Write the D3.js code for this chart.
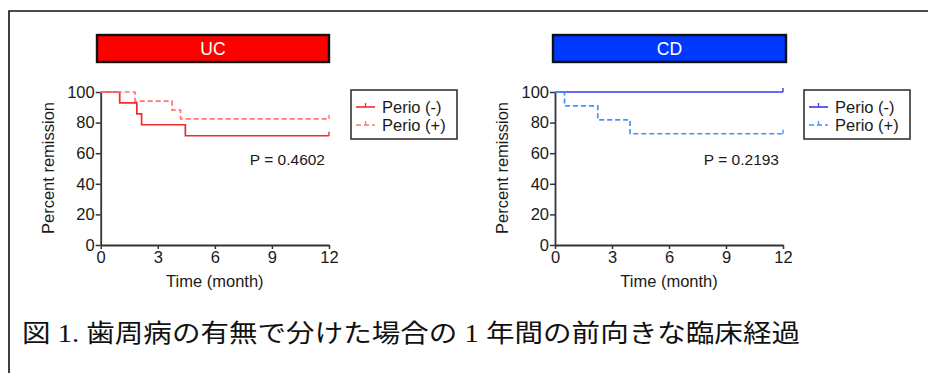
<!DOCTYPE html>
<html lang="ja">
<head>
<meta charset="UTF-8">
<title>Remission by periodontitis</title>
<script src="https://d3js.org/d3.v7.min.js"></script>
<style>
  html, body { margin: 0; padding: 0; background: #fff; }
  svg text { font-family: "Liberation Sans", Arial, sans-serif; fill: #1a1a1a; }
</style>
</head>
<body>
<div id="chart"></div>
<script>
// tick labels
const xTicks = [0, 3, 6, 9, 12];
const yTicks = [0, 20, 40, 60, 80, 100];
const seriesLabels = ["Perio (-)", "Perio (+)"];

// UC – Kaplan-Meier steps (month, % remission)
const ucNegTimes = [0, 1.0, 1.9, 2.15, 4.45, 12];
const ucNegSurv  = [100, 92.9, 85.7, 78.6, 71.4, 71.4];
const ucPosTimes = [0, 1.8, 3.75, 4.2, 12];
const ucPosSurv  = [100, 94.1, 88.2, 82.4, 82.4];
const ucP = "P = 0.4602";

// CD
const cdNegTimes = [0, 12];
const cdNegSurv  = [100, 100];
const cdPosTimes = [0, 0.5, 2.25, 3.95, 12];
const cdPosSurv  = [100, 90.9, 81.8, 72.7, 72.7];
const cdP = "P = 0.2193";

const caption = "図 1. 歯周病の有無で分けた場合の 1 年間の前向きな臨床経過";

const W = 928, H = 373;
const svg = d3.select("#chart").append("svg")
    .attr("width", W).attr("height", H);

// outer frame (runs off the right and bottom)
svg.append("path")
    .attr("d", `M9,${H + 2}V11H${W + 2}`)
    .attr("fill", "none").attr("stroke", "#111").attr("stroke-width", 1.6);

const panels = [
    { title: "UC", head: "#ff0000", left: 100.7, right: 329, hx: 97, hw: 232,
      neg: { t: ucNegTimes, s: ucNegSurv, c: "#ef2b2b" },
      pos: { t: ucPosTimes, s: ucPosSurv, c: "#ff7474" },
      p: ucP, legX: 351 },
    { title: "CD", head: "#0038ff", left: 555, right: 783, hx: 553, hw: 233,
      neg: { t: cdNegTimes, s: cdNegSurv, c: "#3b3bef" },
      pos: { t: cdPosTimes, s: cdPosSurv, c: "#3d94ff" },
      p: cdP, legX: 804 }
];

panels.forEach(pn => {
    const x = d3.scaleLinear().domain([0, 12]).range([pn.left, pn.right]);
    const y = d3.scaleLinear().domain([0, 100]).range([245, 92]);

    // header bar
    svg.append("rect")
        .attr("x", pn.hx).attr("y", 35).attr("width", pn.hw).attr("height", 27)
        .attr("fill", pn.head).attr("stroke", "#111").attr("stroke-width", 2.4);
    svg.append("text")
        .attr("x", pn.hx + pn.hw / 2).attr("y", 55)
        .attr("text-anchor", "middle").attr("font-size", 17.5)
        .style("fill", "#fff").text(pn.title);

    // axes
    const gy = svg.append("g")
        .attr("transform", `translate(${pn.left},0)`)
        .call(d3.axisLeft(y).tickValues(yTicks).tickSize(5).tickSizeOuter(0).tickPadding(1));
    const gx = svg.append("g")
        .attr("transform", `translate(0,245)`)
        .call(d3.axisBottom(x).tickValues(xTicks).tickSize(4).tickSizeOuter(0).tickPadding(2));
    [gx, gy].forEach(g => {
        g.select(".domain").attr("stroke", "#333").attr("stroke-width", 1.8);
        g.selectAll(".tick line").attr("stroke", "#333").attr("stroke-width", 1.5);
        g.selectAll(".tick text").attr("font-size", 16.5)
            .attr("font-family", "Liberation Sans, Arial, sans-serif").style("fill", "#1a1a1a");
    });

    // axis titles
    svg.append("text")
        .attr("transform", `translate(${pn.left - 47},168) rotate(-90)`)
        .attr("text-anchor", "middle").attr("font-size", 16.5)
        .text("Percent remission");
    svg.append("text")
        .attr("x", (pn.left + pn.right) / 2).attr("y", 287)
        .attr("text-anchor", "middle").attr("font-size", 16.5)
        .text("Time (month)");

    // step curves
    const line = d3.line().curve(d3.curveStepAfter)
        .x(d => x(d[0])).y(d => y(d[1]));
    [[pn.neg, null], [pn.pos, "5,3"]].forEach(([sr, dash]) => {
        const pts = sr.t.map((t, i) => [t, sr.s[i]]);
        svg.append("path").datum(pts)
            .attr("d", line).attr("fill", "none")
            .attr("stroke", sr.c).attr("stroke-width", 1.7)
            .attr("stroke-dasharray", dash);
        // censor mark at end
        const last = pts[pts.length - 1];
        svg.append("line")
            .attr("x1", x(last[0])).attr("x2", x(last[0]))
            .attr("y1", y(last[1])).attr("y2", y(last[1]) - 4)
            .attr("stroke", sr.c).attr("stroke-width", 1.4);
    });

    // p value
    svg.append("text")
        .attr("x", x(12) - 4).attr("y", 165)
        .attr("text-anchor", "end").attr("font-size", 15.5)
        .text(pn.p);

    // legend
    const lg = svg.append("g").attr("transform", `translate(${pn.legX},90)`);
    lg.append("rect").attr("width", 106).attr("height", 49)
        .attr("fill", "#fff").attr("stroke", "#333").attr("stroke-width", 1.6);
    [[pn.neg, null], [pn.pos, "5,3"]].forEach(([sr, dash], i) => {
        const ly = 17 + i * 18;
        lg.append("line").attr("x1", 5).attr("x2", 24).attr("y1", ly).attr("y2", ly)
            .attr("stroke", sr.c).attr("stroke-width", 1.6).attr("stroke-dasharray", dash);
        lg.append("line").attr("x1", 14.5).attr("x2", 14.5).attr("y1", ly).attr("y2", ly - 4)
            .attr("stroke", sr.c).attr("stroke-width", 1.3);
        lg.append("text").attr("x", 31).attr("y", ly + 5.5)
            .attr("font-size", 16.5).text(seriesLabels[i]);
    });
});

// caption
svg.append("text")
    .attr("x", 22).attr("y", 342)
    .attr("font-size", 25)
    .attr("textLength", 778).attr("lengthAdjust", "spacingAndGlyphs")
    .style("font-family", "'Liberation Serif', 'Noto Sans CJK JP', serif")
    .style("fill", "#111")
    .text(caption);
</script>
</body>
</html>
